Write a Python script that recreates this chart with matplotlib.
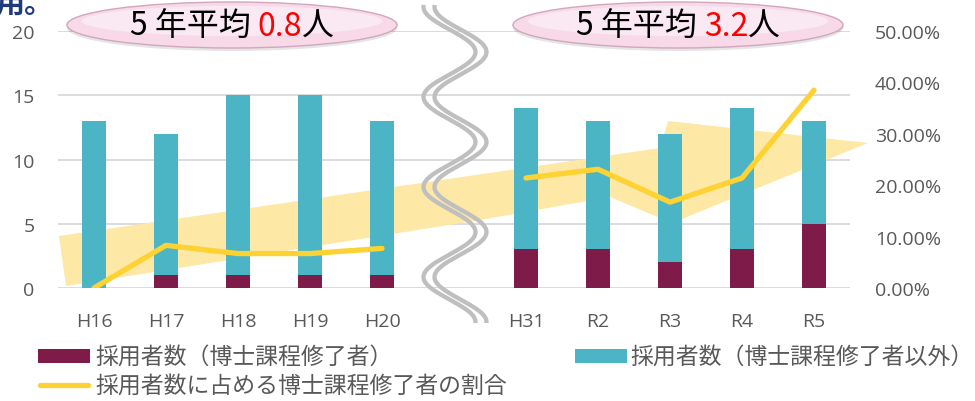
import numpy as np
import matplotlib.pyplot as plt
from matplotlib.patches import Polygon, Ellipse, Rectangle
from matplotlib.lines import Line2D
from matplotlib.transforms import Affine2D
from matplotlib.offsetbox import TextArea, HPacker, AnnotationBbox

plt.rcParams['font.family'] = ['Noto Sans CJK JP', 'DejaVu Sans']

# ----- data ----------------------------------------------------------------
years = ["H16", "H17", "H18", "H19", "H20", "H31", "R2", "R3", "R4", "R5"]
phd = [0, 1, 1, 1, 1, 3, 3, 2, 3, 5]            # 採用者数（博士課程修了者）
other = [13, 11, 14, 14, 12, 11, 10, 10, 11, 8]  # 採用者数（博士課程修了者以外）
ratio = [0.0, 0.083, 0.067, 0.067, 0.077, 0.214, 0.231, 0.167, 0.214, 0.385]

lbl_phd = "採用者数（博士課程修了者）"
lbl_other = "採用者数（博士課程修了者以外）"
lbl_ratio = "採用者数に占める博士課程修了者の割合"

C_PHD = "#7E1B48"
C_OTHER = "#4BB5C6"
C_LINE = "#FFD233"
C_ARROW = "#FDE8A6"
C_GRID = "#D9D9D9"
C_TXT = "#595959"
TICK_FONT = ["Open Sans", "DejaVu Sans"]

W, H = 975, 402

fig = plt.figure(figsize=(W / 100, H / 100), dpi=100)
# pixel coords, origin top-left, for decorations
PX = Affine2D().scale(1 / W, -1 / H).translate(0, 1) + fig.transFigure

ax = fig.add_axes([58 / W, 1 - 289 / H, (850 - 58) / W, (289 - 32) / H])
ax2 = ax.twinx()

idx = np.arange(len(years))
x = idx + (idx >= 5)  # leave one empty slot for the axis break

ax.bar(x, phd, width=0.32, color=C_PHD, zorder=3)
ax.bar(x, other, width=0.32, bottom=phd, color=C_OTHER, zorder=3)

# ratio line, broken at the gap
r = np.array(ratio, dtype=float)
for sl in (slice(0, 5), slice(5, None)):
    ax2.plot(x[sl], r[sl], color=C_LINE, lw=3.8, solid_capstyle="round",
             solid_joinstyle="round", zorder=4)

ax.set_xlim(-0.5, 10.5)
ax.set_ylim(0, 20)
ax2.set_ylim(0, 0.5)
ax.set_yticks([0, 5, 10, 15, 20])
ax2.set_yticks(np.arange(0, 0.51, 0.1))
ax2.set_yticklabels([f"{v * 100:.2f}%" for v in np.arange(0, 0.51, 0.1)])
ax.set_xticks(x)
ax.set_xticklabels(years)
ax.yaxis.grid(True, color=C_GRID, lw=1.3, zorder=0)
ax.set_axisbelow(True)
for a in (ax, ax2):
    for s in a.spines.values():
        s.set_visible(False)
ax.tick_params(axis="y", length=0, pad=17, labelsize=14, labelcolor=C_TXT)
ax.tick_params(axis="x", length=0, pad=17, labelsize=14, labelcolor=C_TXT)
ax2.tick_params(axis="y", length=0, pad=18, labelsize=14, labelcolor=C_TXT)
for lab in ax.get_xticklabels() + ax.get_yticklabels() + ax2.get_yticklabels():
    lab.set_family(TICK_FONT)

# background trend arrow
arrow = Polygon([(59, 237), (660, 149), (668, 122), (868, 144), (672, 224),
                 (610, 198), (480, 221), (66, 287)],
                closed=True, transform=PX, facecolor=C_ARROW, edgecolor="none",
                zorder=1, clip_on=False)
ax.add_patch(arrow)

# wavy axis break
yy = np.linspace(6, 324, 400)
xx = 455 - 26 * np.cos(np.pi * (yy - 8) / 45)
for dx in (-5.5, 5.5):
    ax.add_line(Line2D(xx + dx, yy, transform=PX, color="#BFBFBF", lw=3.1,
                       solid_capstyle="butt", zorder=5, clip_on=False))

# averages in pink ellipses
def bubble(cx, avg):
    fig.add_artist(Ellipse((cx, 29), 330, 46, transform=PX, facecolor="#000000",
                           alpha=0.10, edgecolor="none", zorder=2))
    fig.add_artist(Ellipse((cx, 26), 330, 46, transform=PX, facecolor="#F7D9E8",
                           edgecolor="#D2A6BE", lw=1.0, zorder=3))
    fig.add_artist(Ellipse((cx, 22), 300, 30, transform=PX, facecolor="#FCEEF5",
                           edgecolor="none", alpha=0.8, zorder=3))
    tp = dict(fontsize=23)
    parts = [TextArea("5 年平均 ", textprops=dict(color="black", **tp)),
             TextArea(f"{avg:.1f}", textprops=dict(color="#FF0000", **tp)),
             TextArea("人", textprops=dict(color="black", **tp))]
    box = HPacker(children=parts, sep=0, pad=0, align="baseline")
    ab = AnnotationBbox(box, (cx, 27), xycoords=PX, frameon=False,
                        box_alignment=(0.5, 0.5), zorder=4)
    fig.add_artist(ab)

bubble(232, np.mean(phd[:5]))
bubble(678, np.mean(phd[5:]))

# cropped heading from the slide above
fig.text(-5 / W, 1 - 12 / H, "用。", fontsize=21, fontweight="bold",
         color="#1F3A78", va="baseline", ha="left")

# legend drawn by hand
fs = 16.5
fig.add_artist(Rectangle((38, 350), 52, 14, transform=PX, facecolor=C_PHD,
                         edgecolor="none"))
fig.text(95 / W, 1 - 357 / H, lbl_phd, fontsize=fs, color=C_TXT, va="center")
fig.add_artist(Rectangle((575, 350), 52, 14, transform=PX, facecolor=C_OTHER,
                         edgecolor="none"))
fig.text(630 / W, 1 - 357 / H, lbl_other, fontsize=fs, color=C_TXT, va="center")
fig.add_artist(Line2D([40, 88], [386, 386], transform=PX, color=C_LINE, lw=3.8,
                      solid_capstyle="round"))
fig.text(95 / W, 1 - 386 / H, lbl_ratio, fontsize=fs, color=C_TXT, va="center")

fig.savefig("out.png", dpi=100)
